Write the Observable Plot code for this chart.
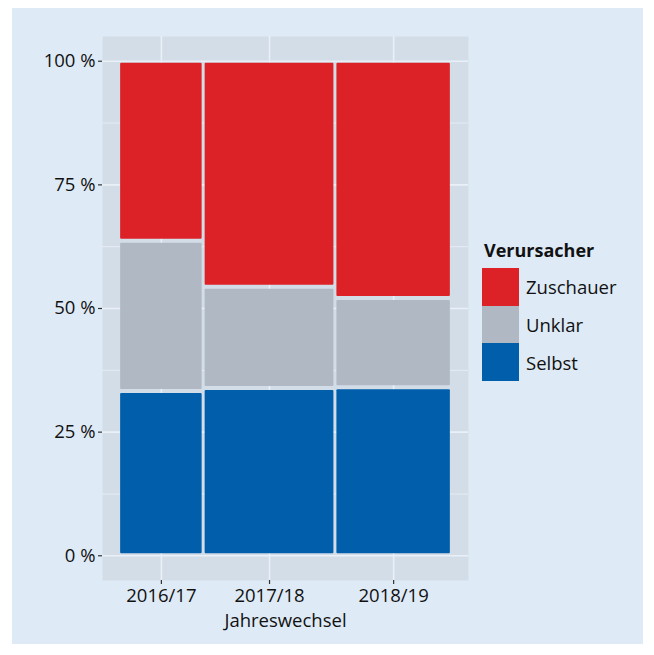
<!DOCTYPE html>
<html>
<head>
<meta charset="utf-8">
<script src="https://cdn.jsdelivr.net/npm/d3@7"></script>
<script src="https://cdn.jsdelivr.net/npm/@observablehq/plot@0.6"></script>
<style>
  html, body { margin: 0; padding: 0; background: #ffffff; }
  #wrap { position: relative; width: 654px; height: 655px; font-family: "Open Sans", sans-serif; }
  #bg { position: absolute; left: 12px; top: 8px; width: 631px; height: 636px; background: #deeaf6; }
  #chart { position: absolute; left: 0; top: 0; }
  #legend { position: absolute; left: 482px; top: 239px; color: #111; }
  #legend .title { font-weight: 700; font-size: 18px; margin-left: 2px; height: 29px; line-height: 22px; }
  #legend .row { display: flex; align-items: center; height: 37.7px; }
  #legend .sw { width: 37px; height: 37.7px; box-sizing: border-box; }
  #legend .lab { margin-left: 7px; font-size: 18.5px; }
</style>
</head>
<body>
<div id="wrap">
  <div id="bg"></div>
  <div id="chart"></div>
  <div id="legend"></div>
</div>
<script>
// ---- data ----
const years = ["2016/17", "2017/18", "2018/19"];
const yearShares = [0.254, 0.396, 0.350];           // relative widths (mosaic)
const categories = ["Selbst", "Unklar", "Zuschauer"]; // bottom to top
const selbst = [0.332, 0.338, 0.340];
const unklar = [0.304, 0.205, 0.180];
const zuschauer = [0.364, 0.457, 0.480];
const colors = ["#005eaa", "#b0b9c3", "#dc2227"];
const yTicks = [0, 0.25, 0.5, 0.75, 1];
const yMinor = [0.125, 0.375, 0.625, 0.875];

// ---- derived table ----
const seriesVals = [selbst, unklar, zuschauer];
const rects = [];
const centers = [];
let xc = 0;
years.forEach((yr, i) => {
  const x1 = xc, x2 = xc + yearShares[i];
  centers.push((x1 + x2) / 2);
  let yc = 0;
  categories.forEach((cat, j) => {
    const v = seriesVals[j][i];
    rects.push({year: yr, cat, x1, x2, y1: yc, y2: yc + v});
    yc += v;
  });
  xc = x2;
});
const labelMap = new Map(centers.map((c, i) => [c, years[i]]));

const gridColor = "#eaf0f7";

const chart = Plot.plot({
  width: 654,
  height: 655,
  marginLeft: 102,
  marginRight: 186,
  marginTop: 36,
  marginBottom: 75,
  style: { background: "transparent", fontFamily: "Open Sans, sans-serif", fontSize: "18.5px", color: "#111" },
  x: { domain: [-0.05, 1.05] },
  y: { domain: [-0.05, 1.05] },
  color: { domain: categories, range: colors },
  marks: [
    Plot.frame({ fill: "#d3dde8", stroke: null }),
    Plot.gridY(yMinor, { stroke: gridColor, strokeOpacity: 1, strokeWidth: 0.8 }),
    Plot.gridY(yTicks, { stroke: gridColor, strokeOpacity: 1, strokeWidth: 1.6 }),
    Plot.gridX(centers, { stroke: gridColor, strokeOpacity: 1, strokeWidth: 1.6 }),
    Plot.rect(rects, {
      x1: "x1", x2: "x2", y1: "y1", y2: "y2", fill: "cat",
      insetLeft: 1.5, insetRight: 1.5, insetTop: 2, insetBottom: 2, rx: 1
    }),
    Plot.axisY(yTicks, {
      tickFormat: d => `${Math.round(d * 100)} %`,
      tickSize: 4, tickPadding: 3, stroke: "#333", strokeWidth: 1.2,
      label: null, fontSize: 18.5, fill: "#111"
    }),
    Plot.axisX(centers, {
      tickFormat: d => labelMap.get(d),
      tickSize: 4, tickPadding: 4, stroke: "#333", strokeWidth: 1.2,
      label: "Jahreswechsel", labelAnchor: "center", labelArrow: "none", labelOffset: 46,
      fontSize: 18.5, fill: "#111"
    })
  ]
});
document.getElementById("chart").appendChild(chart);

// ---- legend (HTML) ----
const legend = document.getElementById("legend");
const t = document.createElement("div");
t.className = "title";
t.textContent = "Verursacher";
legend.appendChild(t);
categories.slice().reverse().forEach(cat => {
  const row = document.createElement("div");
  row.className = "row";
  const sw = document.createElement("div");
  sw.className = "sw";
  sw.style.background = colors[categories.indexOf(cat)];
  const lab = document.createElement("div");
  lab.className = "lab";
  lab.textContent = cat;
  row.appendChild(sw);
  row.appendChild(lab);
  legend.appendChild(row);
});
</script>
</body>
</html>
